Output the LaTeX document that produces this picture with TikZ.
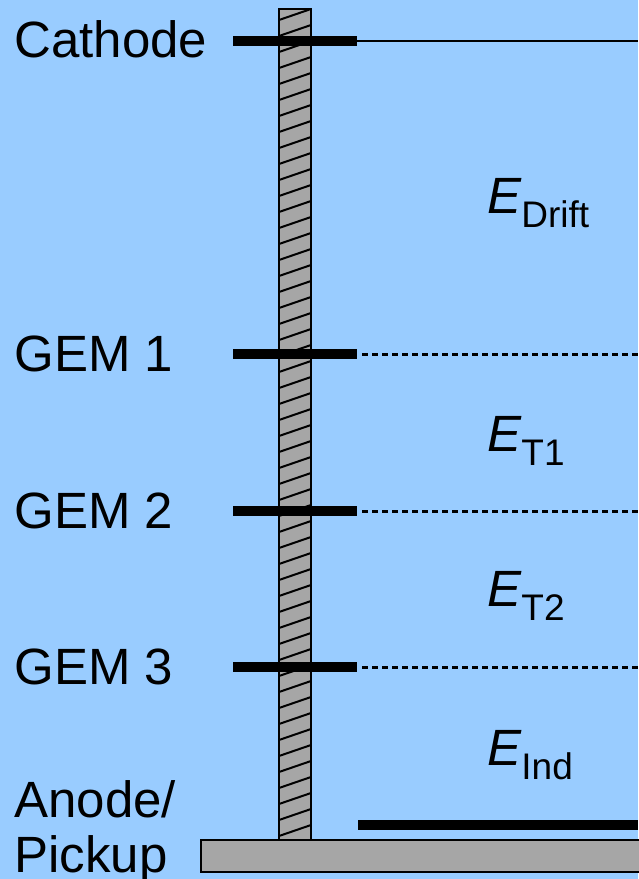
\documentclass[tikz,border=0pt]{standalone}
\usepackage{fontspec}
\setmainfont{Liberation Sans}
\usetikzlibrary{positioning}
\definecolor{bgblue}{RGB}{153,204,255}
\definecolor{frame}{RGB}{166,166,166}

\newcommand{\field}[1]{{\itshape E}\raisebox{-7pt}{\fontsize{18.5}{22}\selectfont #1}}

\begin{document}
\begin{tikzpicture}[
        x=0.5pt, y=-0.5pt,
        every node/.style={font=\fontsize{25.5}{30}\selectfont, inner sep=0pt},
        electrode/.style={draw=black, line width=5pt},
        foil/.style={draw=black, line width=1.5pt, dash pattern=on 3pt off 2pt},
        wire/.style={draw=black, line width=1pt},
        support/.style={fill=frame, draw=black, line width=1pt},
        lbl/.style={anchor=base west},
        elbl/.style={anchor=base west}
    ]
    % hintergrund
    \fill[bgblue] (0,0) rectangle (638,879);
    \useasboundingbox (0,0) rectangle (638,879);

    % ================= halterung ==========================
    \fill[frame] (279,9) rectangle (311,840);
    \begin{scope}
        \clip (279,9) rectangle (311,840);
        \foreach \y in {20,36,...,870}
        \draw[black, line width=1pt] (279,\y) -- (311,\y-11);
    \end{scope}
    \draw[black, line width=1pt] (279,9) rectangle (311,840);
    \draw[support] (201,840) rectangle (645,872);

    % ================= elektroden =========================
    \draw[electrode] (233,41) -- (357,41);
    \draw[wire] (357,41) -- (638,41);
    \foreach \y in {354,511,667}
    {
        \draw[electrode] (233,\y) -- (357,\y);
        \draw[foil] (362,\y) -- (638,\y);
    }
    \draw[electrode] (358,825) -- (638,825);

    % ================= beschriftung =======================
    \node[lbl] (cathode) at (14,57) {Cathode};
    \node[lbl] (gem1) at (14,371) {GEM 1};
    \node[lbl] (gem2) at (14,528) {GEM 2};
    \node[lbl] (gem3) at (14,684) {GEM 3};
    \node[lbl] (anode) at (14,817) {Anode/};
    \node[lbl] (pickup) at (14,872) {Pickup};

    \node[elbl] (edrift) at (487,213) {\field{Drift}};
    \node[elbl] (et1) at (487,451) {\field{T1}};
    \node[elbl] (et2) at (487,606) {\field{T2}};
    \node[elbl] (eind) at (487,765) {\field{Ind}};
\end{tikzpicture}
\end{document}
